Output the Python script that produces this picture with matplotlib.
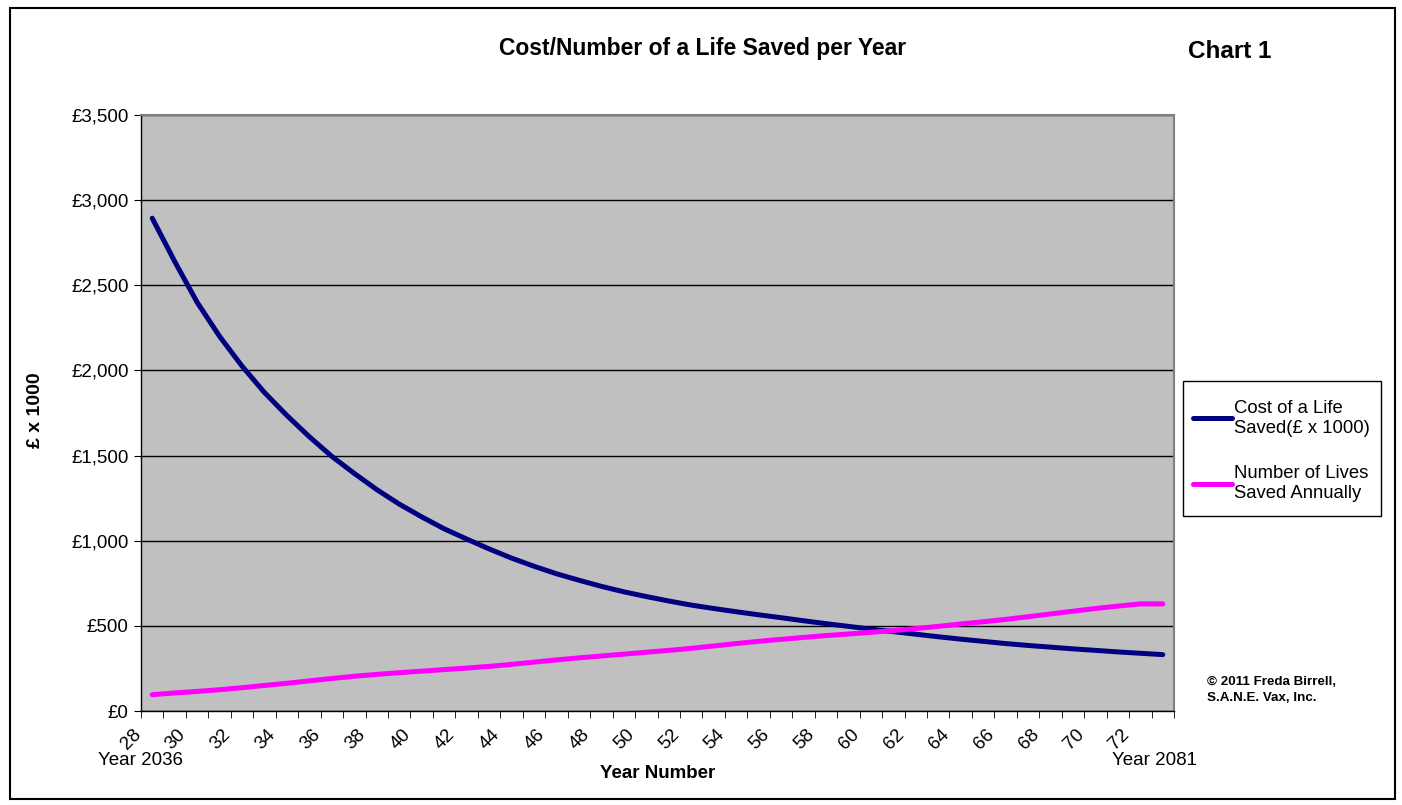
import numpy as np
import matplotlib
matplotlib.use("Agg")
import matplotlib.pyplot as plt
from matplotlib.patches import Rectangle
from matplotlib.transforms import ScaledTranslation

plt.rcParams['font.family'] = ['Liberation Sans', 'DejaVu Sans']

years = list(range(28, 74))
cost = [2894, 2640, 2400, 2200, 2025, 1870, 1735, 1610, 1495, 1395,
        1300, 1215, 1140, 1070, 1010, 952, 898, 850, 806, 768,
        732, 700, 672, 646, 622, 602, 583, 565, 548, 530,
        513, 497, 481, 466, 451, 436, 422, 409, 396, 385,
        375, 365, 356, 347, 339, 331]
lives = [96, 106, 115, 125, 137, 150, 163, 177, 191, 204,
         215, 225, 234, 243, 252, 262, 274, 287, 300, 312,
         323, 334, 345, 356, 368, 382, 396, 409, 421, 432,
         443, 452, 462, 472, 484, 497, 511, 524, 538, 554,
         570, 586, 602, 616, 629, 629]
y_ticks = [0, 500, 1000, 1500, 2000, 2500, 3000, 3500]
y_tick_labels = ['£0', '£500', '£1,000', '£1,500', '£2,000', '£2,500', '£3,000', '£3,500']
series_names = ['Cost of a Life\nSaved(£ x 1000)', 'Number of Lives\nSaved Annually']

W, H = 1402, 805
fig = plt.figure(figsize=(W / 100, H / 100), dpi=100)
ax = fig.add_axes([141 / W, 1 - 711 / H, (1174 - 141) / W, (711 - 115) / H])
ax.set_facecolor('#C0C0C0')

x = np.arange(len(years))
l1, = ax.plot(x, cost, color='#000080', lw=3.6, solid_capstyle='round', zorder=3)
l2, = ax.plot(x, lives, color='#FF00FF', lw=3.6, solid_capstyle='round', zorder=3)

ax.set_xlim(-0.5, len(years) - 0.5)
ax.set_ylim(0, 3500)
ax.set_yticks(y_ticks)
ax.set_yticklabels(y_tick_labels, fontsize=13.5)
ax.yaxis.grid(True, color='black', lw=1)
ax.set_axisbelow(True)

ax.set_xticks(x)
ax.set_xticklabels([str(y) if (y % 2 == 0) else '' for y in years],
                   rotation=45, ha='right', va='top', rotation_mode='anchor', fontsize=13.5)
ax.tick_params(axis='x', which='major', length=0, pad=11)
offset = ScaledTranslation(-0.20, 0.0, fig.dpi_scale_trans)
for lab in ax.get_xticklabels():
    lab.set_transform(lab.get_transform() + offset)
ax.set_xticks(np.arange(len(years) + 1) - 0.5, minor=True)
ax.tick_params(axis='x', which='minor', length=5, direction='out', color='black')
ax.tick_params(axis='y', length=5, direction='out', color='black', pad=4)

for s in ['top', 'right']:
    ax.spines[s].set_color('#808080')
    ax.spines[s].set_linewidth(1.5)
for s in ['left', 'bottom']:
    ax.spines[s].set_color('black')
    ax.spines[s].set_linewidth(1)

fig.text(703 / W, 1 - 48 / H, 'Cost/Number of a Life Saved per Year', ha='center', va='center',
         fontsize=16.5, fontweight='bold')
fig.text(1230 / W, 1 - 51 / H, 'Chart 1', ha='center', va='center', fontsize=17.5, fontweight='bold')
fig.text(35 / W, 1 - 410 / H, '£ x 1000', rotation=90, ha='center', va='center',
         fontsize=14, fontweight='bold')
fig.text(658 / W, 1 - 773 / H, 'Year Number', ha='center', va='center', fontsize=13.5, fontweight='bold')
fig.text(140 / W, 1 - 760 / H, 'Year 2036', ha='center', va='center', fontsize=13.5)
fig.text(1155 / W, 1 - 760 / H, 'Year 2081', ha='center', va='center', fontsize=13.5)
fig.text(1207 / W, 1 - 690 / H, '© 2011 Freda Birrell,\nS.A.N.E. Vax, Inc.', ha='left', va='center',
         fontsize=9.6, fontweight='bold', linespacing=1.4)

leg = fig.legend([l1, l2], series_names, loc='upper left',
                 bbox_to_anchor=(1193 / W, 1 - 400 / H), fontsize=13.3,
                 frameon=False, handlelength=2.1, handletextpad=0.1,
                 labelspacing=1.55, borderpad=0, borderaxespad=0)
fig.patches.append(Rectangle((1183 / W, 1 - 516 / H), (1381 - 1183) / W, (516 - 381) / H,
                             transform=fig.transFigure, fill=True, facecolor='white',
                             edgecolor='black', lw=1, zorder=0))

fig.patches.append(Rectangle((10 / W, 1 - 799 / H), (1395 - 10) / W, (799 - 8) / H,
                             transform=fig.transFigure, fill=False, edgecolor='black', lw=1.5))

fig.savefig('out.png', dpi=100)
